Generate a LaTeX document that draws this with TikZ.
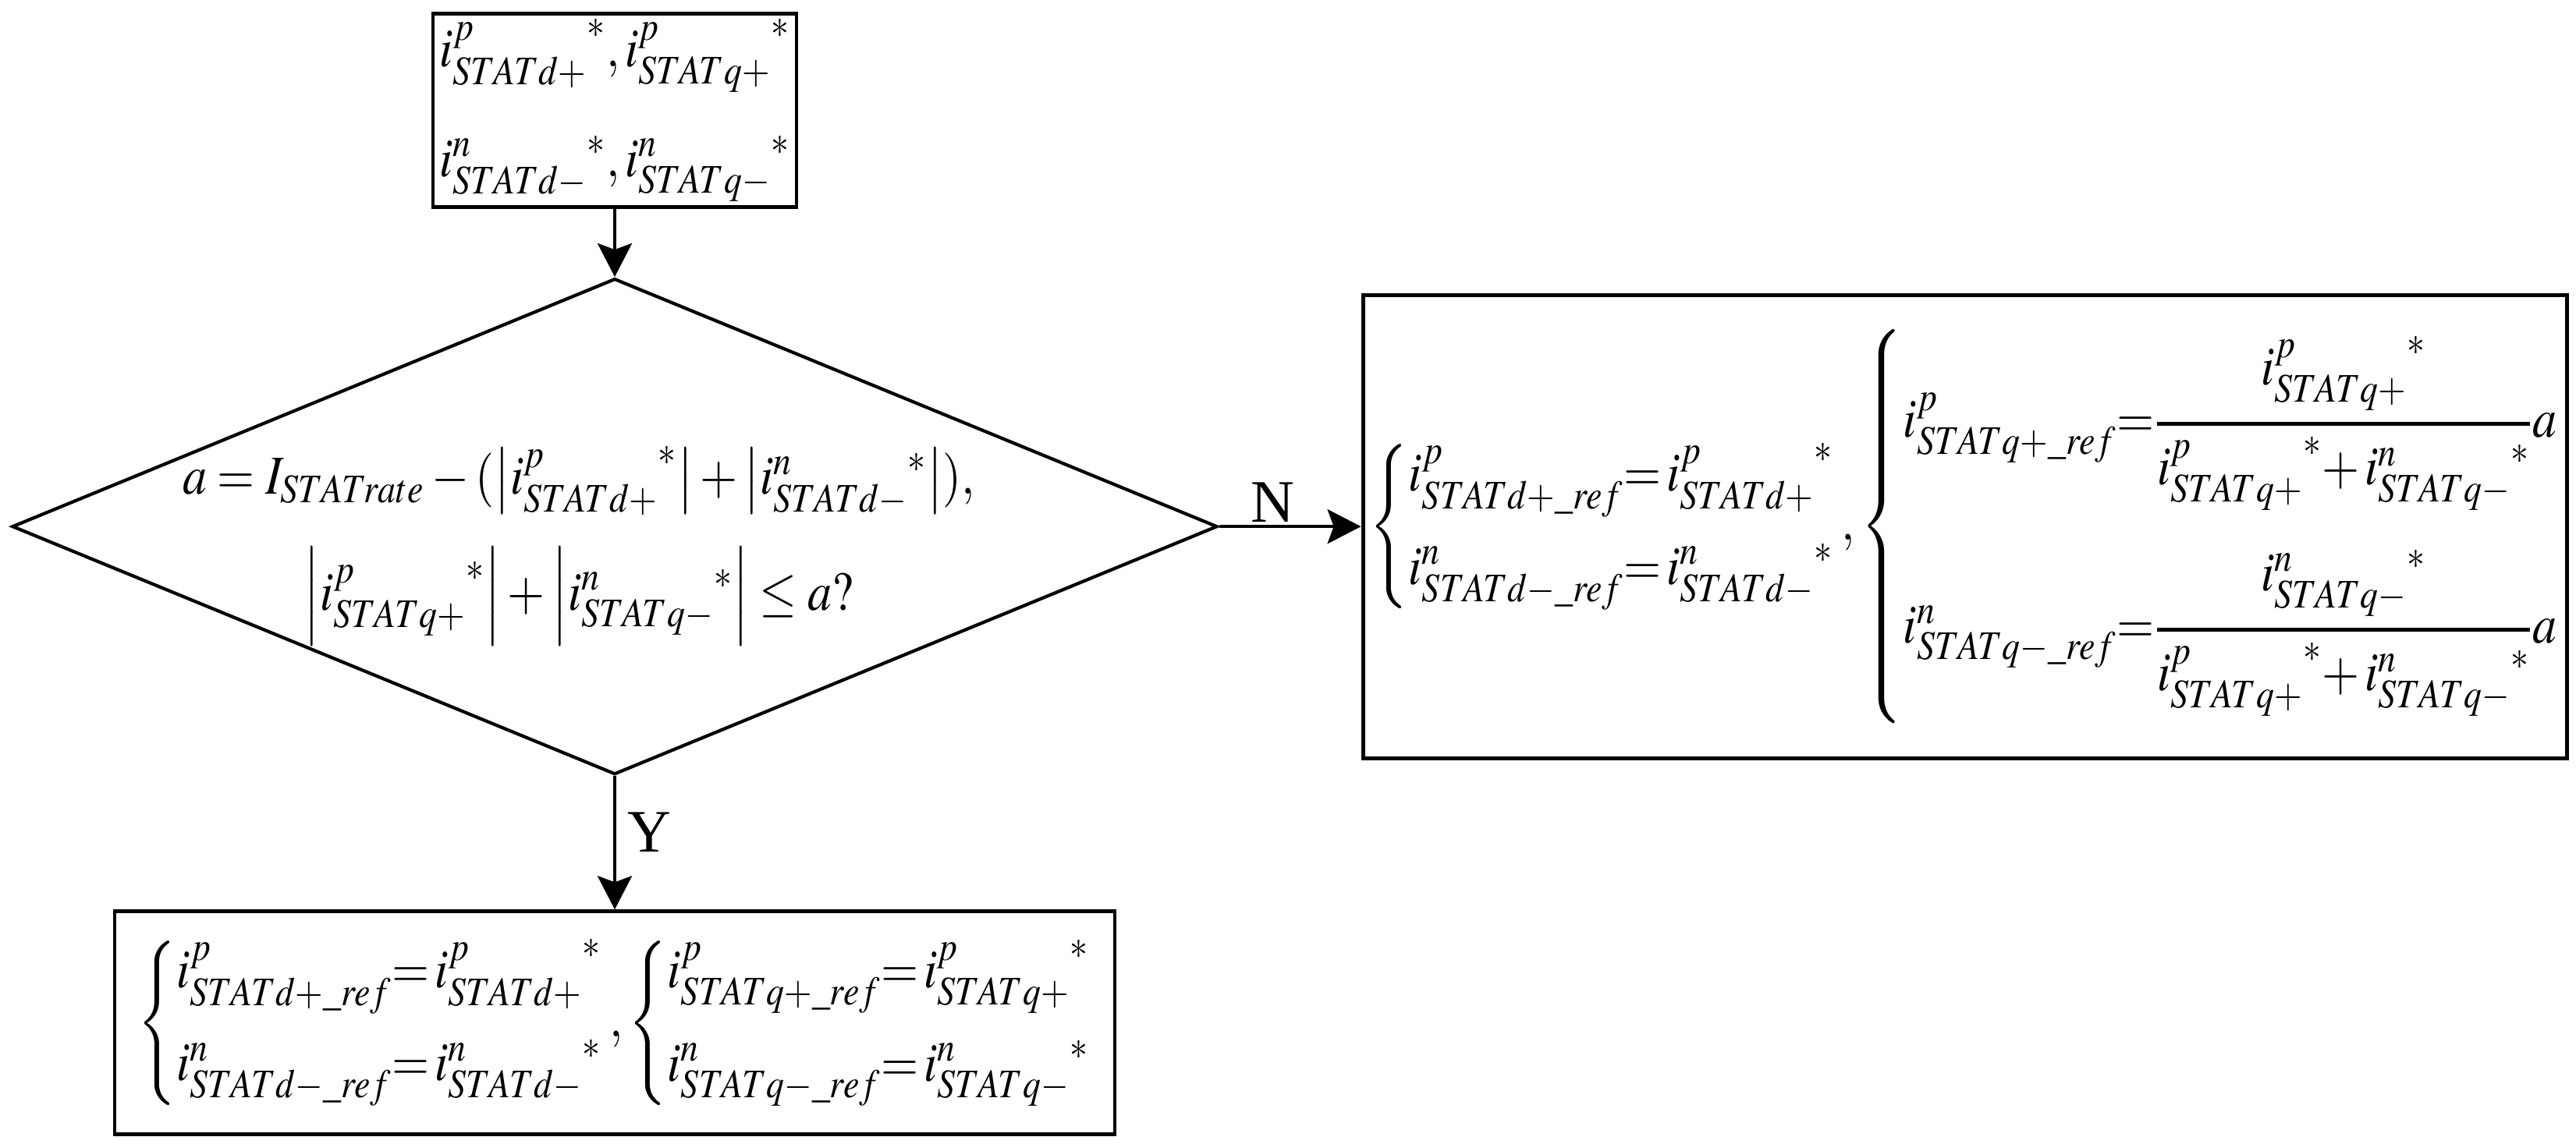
\documentclass[tikz,border=0pt]{standalone}
\usepackage{amsmath}
\usepackage{mathptmx}
\usepackage{fontspec}
\setmainfont{Liberation Serif}
\usepackage{tikz}
\usetikzlibrary{arrows.meta,positioning,shapes}
% the formulas are set a little narrow
\newcommand{\squeeze}[1]{\scalebox{0.88}[1]{#1}}
% fraction with a heavy bar
\newcommand{\hfrac}[2]{\genfrac{}{}{1.4pt}{0}{#1}{#2}}

\begin{document}
\begin{tikzpicture}[
      every node/.style={font=\fontsize{20}{24}\selectfont},
      box/.style={draw,rectangle,line width=1.4pt,inner sep=2pt},
      check/.style={draw,diamond,line width=1.2pt,inner sep=0pt,minimum width=15.45cm,minimum height=6.36cm},
      tag/.style={font=\fontsize{22}{26}\selectfont},
      >={Stealth[length=4.3mm,width=4.4mm,inset=0.8mm]}
    ]
    \useasboundingbox (0,0) rectangle (33.02,-14.67);

    % input currents
    \node[box,minimum width=4.66cm,minimum height=2.47cm] (input) at (7.88,-1.415)
      {\squeeze{$\begin{array}{@{}l@{}}
        {i^{p}_{STATd+}}^{*}{,}\,{i^{p}_{STATq+}}^{*}\\[16pt]
        {i^{n}_{STATd-}}^{*}{,}\,{i^{n}_{STATq-}}^{*}
      \end{array}$}};

    % the test
    \node[check,below=0.87cm of input] (check) {};
    \node (cond) at ([xshift=-0.46cm,yshift=-0.25cm]check.center)
      {\squeeze{$\begin{array}{c}
        a=I_{STATrate}-(\left|{i^{p}_{STATd+}}^{*}\right|+\left|{i^{n}_{STATd-}}^{*}\right|),\\[12pt]
        \left|{i^{p}_{STATq+}}^{*}\right|+\left|{i^{n}_{STATq-}}^{*}\right|\le a?
      \end{array}$}};

    % limited references
    \node[box,right=1.82cm of check,minimum width=15.43cm,minimum height=5.94cm] (limit)
      {\squeeze{$\left\{\begin{array}{@{}l@{}}
        i^{p}_{STATd+\_ref}{=}\,{i^{p}_{STATd+}}^{*}\\[10pt]
        i^{n}_{STATd-\_ref}{=}\,{i^{n}_{STATd-}}^{*}
      \end{array}\right.{,}
      \left\{\begin{array}{@{}l@{}}
        i^{p}_{STATq+\_ref}{=}\hfrac{{i^{p}_{STATq+}}^{*}}{{i^{p}_{STATq+}}^{*}{+}\,{i^{n}_{STATq-}}^{*}}a\\[34pt]
        i^{n}_{STATq-\_ref}{=}\hfrac{{i^{n}_{STATq-}}^{*}}{{i^{p}_{STATq+}}^{*}{+}\,{i^{n}_{STATq-}}^{*}}a
      \end{array}\right.$}};

    % unchanged references
    \node[box,below=1.71cm of check,minimum width=12.82cm,minimum height=2.86cm] (keep)
      {\squeeze{$\left\{\begin{array}{@{}l@{}}
        i^{p}_{STATd+\_ref}{=}\,{i^{p}_{STATd+}}^{*}\\[10pt]
        i^{n}_{STATd-\_ref}{=}\,{i^{n}_{STATd-}}^{*}
      \end{array}\right.{,}
      \left\{\begin{array}{@{}l@{}}
        i^{p}_{STATq+\_ref}{=}\,{i^{p}_{STATq+}}^{*}\\[10pt]
        i^{n}_{STATq-\_ref}{=}\,{i^{n}_{STATq-}}^{*}
      \end{array}\right.$}};

    % the arrows
    \draw[->,line width=1.2pt] (input) -- (check);
    \draw[->,line width=1.2pt] (check.east) -- node[above,tag,inner sep=1pt,pos=0.38] {N} (limit);
    \draw[->,line width=1.2pt] (check.south) -- node[right,tag,inner sep=4pt,pos=0.42] {Y} (keep);
\end{tikzpicture}
\end{document}
